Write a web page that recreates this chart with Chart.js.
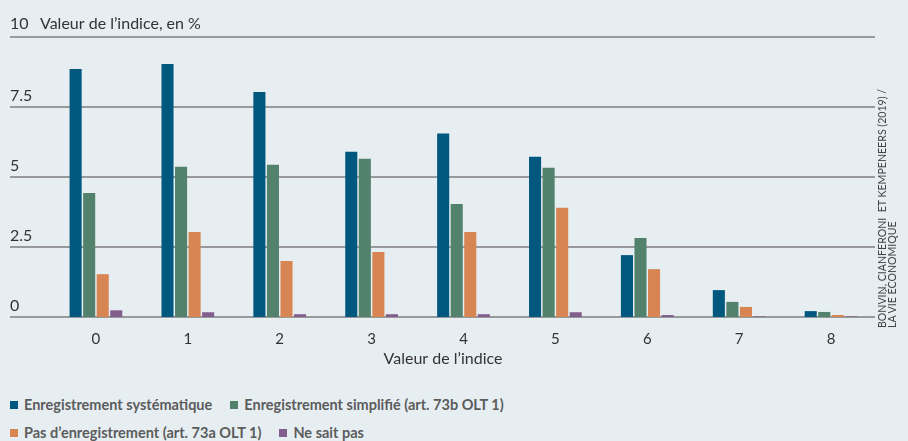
<!DOCTYPE html>
<html>
<head>
<meta charset="utf-8">
<script src="https://cdn.jsdelivr.net/npm/chart.js@4"></script>
<style>
  html, body { margin: 0; padding: 0; background: #e6eef2; }
  #wrap { position: relative; width: 908px; height: 441px; overflow: hidden; font-family: Lato, sans-serif; }
  #chartBox { position: absolute; left: 0; top: 0; width: 908px; height: 380px; }
  #legende { position: absolute; left: 10px; top: 396px; width: 620px; font-weight: bold; font-size: 14.5px; color: #5c5c5c; }
  #legende .row { height: 28px; white-space: nowrap; }
  #legende .item { display: inline-block; margin-right: 18px; }
  #legende .box { display: inline-block; width: 8px; height: 8px; margin-right: 6px; vertical-align: 1px; }
  #source { position: absolute; left: 877px; top: 328px; transform-origin: 0 0; transform: rotate(-90deg);
            font-size: 10.6px; line-height: 10px; color: #444; white-space: nowrap; }
</style>
</head>
<body>
<div id="wrap">
  <div id="chartBox"><canvas id="graphique"></canvas></div>
  <div id="legende"></div>
  <div id="source">BONVIN, CIANFERONI&nbsp; ET KEMPENEERS (2019) /<br>LA VIE ÉCONOMIQUE</div>
</div>
<script>
const categories = ['0', '1', '2', '3', '4', '5', '6', '7', '8'];
const systematique = [8.86, 9.04, 8.04, 5.90, 6.55, 5.72, 2.21, 0.96, 0.21];
const simplifie = [4.43, 5.37, 5.44, 5.65, 4.04, 5.33, 2.82, 0.54, 0.18];
const pasEnregistrement = [1.53, 3.04, 2.00, 2.32, 3.04, 3.90, 1.71, 0.36, 0.07];
const neSaitPas = [0.24, 0.17, 0.10, 0.10, 0.10, 0.17, 0.07, 0.02, 0.02];
const yTicks = [0, 2.5, 5, 7.5, 10];

const series = [
    { label: 'Enregistrement systématique', data: systematique, color: '#00587f' },
    { label: 'Enregistrement simplifié (art. 73b OLT 1)', data: simplifie, color: '#52826c' },
    { label: 'Pas d’enregistrement (art. 73a OLT 1)', data: pasEnregistrement, color: '#d78653' },
    { label: 'Ne sait pas', data: neSaitPas, color: '#815e8c' }
];

// lignes horizontales + libellés des axes, sur toute la largeur
const grillePlugin = {
    id: 'grille',
    beforeDatasetsDraw(chart) {
        const ctx = chart.ctx;
        const y = chart.scales.y;
        ctx.save();
        ctx.strokeStyle = '#7d7d7d';
        ctx.lineWidth = 1.5;
        ctx.fillStyle = '#333';
        ctx.font = '16px Lato';
        ctx.textAlign = 'left';
        ctx.textBaseline = 'alphabetic';
        yTicks.forEach(function (v) {
            const py = y.getPixelForValue(v);
            ctx.beginPath();
            ctx.moveTo(10, py);
            ctx.lineTo(875, py);
            ctx.stroke();
            ctx.fillText(String(v), 10, py - (v === 10 ? 8 : 6));
        });
        ctx.fillText('Valeur de l’indice, en %', 40, y.getPixelForValue(10) - 8);
        ctx.textAlign = 'center';
        ctx.textBaseline = 'middle';
        ctx.fillText('Valeur de l’indice', 443, y.getPixelForValue(0) + 42);
        ctx.restore();
    }
};

new Chart(document.getElementById('graphique'), {
    type: 'bar',
    data: {
        labels: categories,
        datasets: series.map(function (s) {
            return {
                label: s.label,
                data: s.data,
                backgroundColor: s.color,
                borderWidth: 0,
                categoryPercentage: 0.59,
                barPercentage: 0.89
            };
        })
    },
    options: {
        responsive: true,
        maintainAspectRatio: false,
        animation: false,
        layout: { padding: { left: 50, right: 31, top: 37, bottom: 19 } },
        plugins: {
            legend: { display: false },
            tooltip: { enabled: false }
        },
        scales: {
            y: {
                display: false,
                min: 0,
                max: 10
            },
            x: {
                grid: { display: false, drawTicks: false },
                border: { display: false },
                ticks: { color: '#333', font: { family: 'Lato', size: 15 }, padding: 13 }
            }
        }
    },
    plugins: [grillePlugin]
});

const legende = document.getElementById('legende');
[[0, 1], [2, 3]].forEach(function (rang) {
    const row = document.createElement('div');
    row.className = 'row';
    rang.forEach(function (i) {
        const item = document.createElement('span');
        item.className = 'item';
        item.innerHTML = '<span class="box" style="background:' + series[i].color + '"></span>' + series[i].label;
        row.appendChild(item);
    });
    legende.appendChild(row);
});
</script>
</body>
</html>
